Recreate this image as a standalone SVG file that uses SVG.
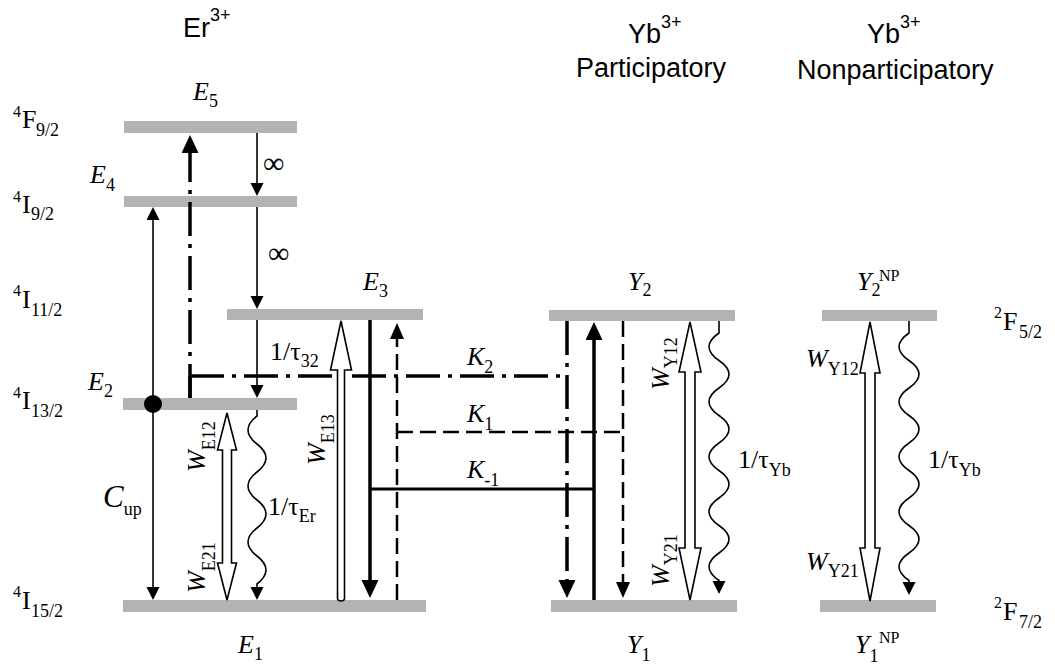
<svg xmlns="http://www.w3.org/2000/svg" width="1055" height="666" viewBox="0 0 1055 666">
<style>
.bar{fill:#b3b3b3}
.t{font-family:"Liberation Serif","Times New Roman",serif;font-size:26px;fill:#000}
.it{font-style:italic}
.rm{font-style:normal}
.sb{font-size:18px}
.sp{font-size:16px}
.hdr{font-family:"Liberation Sans",Arial,sans-serif;font-size:27px;fill:#000}
.hsp{font-size:18px}
.thin{stroke:#000;stroke-width:1.6;fill:none}
.thick{stroke:#000;stroke-width:3.5;fill:none}
.dd{stroke-dasharray:34 8 4 8}
.dash{stroke:#000;stroke-width:2.5;fill:none;stroke-dasharray:16 7}
.hollow{fill:#fff;stroke:#000;stroke-width:1.6;stroke-linejoin:miter}
</style>
<defs>
<marker id="aS" markerUnits="userSpaceOnUse" markerWidth="14" markerHeight="14" refX="10" refY="6.5" orient="auto"><path d="M0,0 L13,6.5 L0,13 z" fill="#000"/></marker>
<marker id="aM" markerUnits="userSpaceOnUse" markerWidth="17" markerHeight="15" refX="12" refY="7" orient="auto"><path d="M0,0 L16,7 L0,14 z" fill="#000"/></marker>
<marker id="aL" markerUnits="userSpaceOnUse" markerWidth="19" markerHeight="18" refX="13" refY="8.5" orient="auto"><path d="M0,0 L18,8.5 L0,17 z" fill="#000"/></marker>
</defs>

<!-- headers -->
<g id="hdr-er"><text class="hdr" x="183" y="37">Er<tspan class="hsp" y="21">3+</tspan></text></g>
<g id="hdr-yb-p"><text class="hdr" x="628" y="43">Yb<tspan class="hsp" y="28">3+</tspan></text><text class="hdr" x="576" y="77">Participatory</text></g>
<g id="hdr-yb-np"><text class="hdr" x="867" y="43">Yb<tspan class="hsp" y="28">3+</tspan></text><text class="hdr" x="797" y="79">Nonparticipatory</text></g>

<!-- term labels -->
<g id="terms">
<text class="t"><tspan class="sp" x="13" y="117">4</tspan><tspan x="22" y="128">F</tspan><tspan class="sb" x="36" y="136">9/2</tspan></text>
<text class="t"><tspan class="sp" x="13" y="202">4</tspan><tspan x="22" y="213">I</tspan><tspan class="sb" x="31" y="220">9/2</tspan></text>
<text class="t"><tspan class="sp" x="13" y="296">4</tspan><tspan x="22" y="308">I</tspan><tspan class="sb" x="31" y="316">11/2</tspan></text>
<text class="t"><tspan class="sp" x="13" y="398">4</tspan><tspan x="22" y="409">I</tspan><tspan class="sb" x="31" y="417">13/2</tspan></text>
<text class="t"><tspan class="sp" x="13" y="597">4</tspan><tspan x="22" y="609">I</tspan><tspan class="sb" x="31" y="617">15/2</tspan></text>
<text class="t"><tspan class="sp" x="994" y="318">2</tspan><tspan x="1003" y="330">F</tspan><tspan class="sb" x="1019" y="338">5/2</tspan></text>
<text class="t"><tspan class="sp" x="994" y="608">2</tspan><tspan x="1003" y="620">F</tspan><tspan class="sb" x="1019" y="628">7/2</tspan></text>
</g>

<!-- levels -->
<g id="E5"><rect class="bar" x="124" y="121" width="173" height="12"/><text class="t it" x="193" y="100">E<tspan class="sb rm" y="107">5</tspan></text></g>
<g id="E4"><rect class="bar" x="124" y="196" width="173" height="11"/><text class="t it" x="90" y="183">E<tspan class="sb rm" y="191">4</tspan></text></g>
<g id="E3"><rect class="bar" x="227" y="309" width="196" height="11"/><text class="t it" x="363" y="290">E<tspan class="sb rm" y="297">3</tspan></text></g>
<g id="E2"><rect class="bar" x="123" y="398" width="174" height="12"/><text class="t it" x="88" y="390">E<tspan class="sb rm" y="397">2</tspan></text></g>
<g id="E1"><rect class="bar" x="123" y="600" width="303" height="12"/><text class="t it" x="238" y="653">E<tspan class="sb rm" y="660">1</tspan></text></g>
<g id="Y2"><rect class="bar" x="549" y="310" width="186" height="11"/><text class="t it" x="628" y="290">Y<tspan class="sb rm" y="296">2</tspan></text></g>
<g id="Y1"><rect class="bar" x="551" y="600" width="186" height="12"/><text class="t it" x="627" y="653">Y<tspan class="sb rm" y="661">1</tspan></text></g>
<g id="Y2NP"><rect class="bar" x="822" y="310" width="115" height="11"/><text class="t it" x="857" y="290">Y<tspan class="sb rm" y="296">2</tspan><tspan class="sp rm" x="879" y="281">NP</tspan></text></g>
<g id="Y1NP"><rect class="bar" x="820" y="600" width="116" height="12"/><text class="t it" x="855" y="653">Y<tspan class="sb rm" y="662">1</tspan><tspan class="sp rm" x="879" y="643">NP</tspan></text></g>

<!-- connectors -->
<g id="connectors">
<line class="thin" x1="257" y1="133" x2="257" y2="193" marker-end="url(#aS)"/>
<line class="thin" x1="257" y1="207" x2="257" y2="306" marker-end="url(#aS)"/>
<line class="thin" x1="257" y1="320" x2="257" y2="395" marker-end="url(#aS)"/>
<path class="thin" d="M257,410 L257,416 Q239,430 257,444 T257,472 T257,500 T257,528 T257,556 T257,584 L257,597" marker-end="url(#aS)"/>
<line class="thin" x1="153" y1="404" x2="153" y2="210" marker-end="url(#aS)"/>
<line class="thin" x1="153" y1="404" x2="153" y2="597" marker-end="url(#aS)"/>
<circle cx="153" cy="404" r="9" fill="#000"/>

<path class="thick dd" d="M190,398 L190,140" marker-end="url(#aL)"/>
<path class="thick" d="M190,398 L190,376"/>
<path class="thick dd" d="M190,376 L567,376"/>
<path class="thick dd" d="M567,321 L567,593" marker-end="url(#aL)"/>

<path class="thick" d="M370,320 L370,593" marker-end="url(#aL)"/>
<path class="thick" d="M370,489 L594,489" style="stroke-width:3"/>
<path class="thick" d="M594,600 L594,327" marker-end="url(#aL)"/>

<path class="dash" d="M397,600 L397,327" marker-end="url(#aM)"/>
<path class="dash" d="M397,432 L623,432"/>
<path class="dash" d="M623,321 L623,594" marker-end="url(#aM)"/>

<path class="hollow" d="M227,413 L236.5,450 L231.5,450 L231.5,563 L236.5,563 L227,600 L217.5,563 L222.5,563 L222.5,450 L217.5,450 Z"/>
<path class="hollow" d="M341,321 L351.5,370 L344.5,370 L344.5,598 Q344.5,601 341,601 Q337.5,601 337.5,598 L337.5,370 L330.5,370 Z"/>
<path class="hollow" d="M690,322 L701,372 L695,372 L695,548 L701,548 L690,600 L679,548 L685,548 L685,372 L679,372 Z"/>
<path class="hollow" d="M870,322 L880,373 L875,373 L875,548 L880,548 L870,601 L860,548 L865,548 L865,373 L860,373 Z"/>

<path class="thin" d="M719,321 L719,333 Q699,346.75 719,360.5 T719,388 T719,415.5 T719,443 T719,470.5 T719,498 T719,525.5 T719,553 T719,580.5 L719,591" marker-end="url(#aS)"/>
<path class="thin" d="M909,321 L909,333 Q889,346.75 909,360.5 T909,388 T909,415.5 T909,443 T909,470.5 T909,498 T909,525.5 T909,553 T909,580.5 L909,592" marker-end="url(#aS)"/>
</g>

<!-- transition labels -->
<g id="labels">
<text class="t" x="263" y="173" style="font-size:30px">∞</text>
<text class="t" x="268" y="263" style="font-size:30px">∞</text>
<text class="t" x="270" y="360">1/τ<tspan class="sb" y="367">32</tspan></text>
<text class="t" x="268" y="515">1/τ<tspan class="sb" y="522">Er</tspan></text>
<text class="t" x="738" y="468">1/τ<tspan class="sb" y="476">Yb</tspan></text>
<text class="t" x="928" y="468">1/τ<tspan class="sb" y="476">Yb</tspan></text>
<text class="t it" x="103" y="507" style="font-size:31px">C<tspan class="sb rm" y="515">up</tspan></text>
<text class="t it" x="467" y="365">K<tspan class="sb rm" y="373">2</tspan></text>
<text class="t it" x="467" y="422">K<tspan class="sb rm" y="430">1</tspan></text>
<text class="t it" x="467" y="478">K<tspan class="sb rm" y="486">-1</tspan></text>
<text class="t it" transform="translate(205,472) rotate(-90)">W<tspan class="sb rm" dy="10">E12</tspan></text>
<text class="t it" transform="translate(205,593) rotate(-90)">W<tspan class="sb rm" dy="10">E21</tspan></text>
<text class="t it" transform="translate(325,465) rotate(-90)">W<tspan class="sb rm" dy="9">E13</tspan></text>
<text class="t it" transform="translate(669,390) rotate(-90)">W<tspan class="sb rm" dy="8">Y12</tspan></text>
<text class="t it" transform="translate(669,587) rotate(-90)">W<tspan class="sb rm" dy="8">Y21</tspan></text>
<text class="t it" x="806" y="367">W<tspan class="sb rm" y="375">Y12</tspan></text>
<text class="t it" x="806" y="570">W<tspan class="sb rm" y="577">Y21</tspan></text>
</g>
</svg>
